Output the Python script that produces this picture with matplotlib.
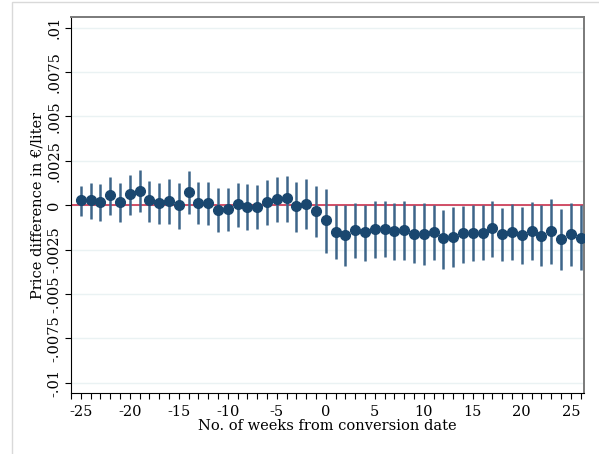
import numpy as np
import matplotlib
matplotlib.use("Agg")
import matplotlib.pyplot as plt
from matplotlib.patches import Rectangle

# Event-study estimates: weeks relative to conversion date
weeks = list(range(-25, 27))
coef = [0.00030, 0.00030, 0.00019, 0.00056, 0.00019, 0.00062, 0.00083, 0.00028,
        0.00013, 0.00023, 0.00004, 0.00075, 0.00015, 0.00013, -0.00024, -0.00021,
        0.00008, -0.00009, -0.00008, 0.00021, 0.00036, 0.00039, -0.00004, 0.00009,
        -0.00030, -0.00084, -0.00148, -0.00167, -0.00141, -0.00152, -0.00133, -0.00131,
        -0.00143, -0.00141, -0.00160, -0.00160, -0.00150, -0.00184, -0.00176, -0.00158,
        -0.00156, -0.00156, -0.00128, -0.00161, -0.00148, -0.00169, -0.00143, -0.00171,
        -0.00145, -0.00190, -0.00163, -0.00182]
ci_hi = [0.00109, 0.00126, 0.00118, 0.00158, 0.00126, 0.00173, 0.00201, 0.00139,
         0.00128, 0.00146, 0.00128, 0.00191, 0.00133, 0.00131, 0.00096, 0.00099,
         0.00128, 0.00118, 0.00116, 0.00145, 0.00160, 0.00167, 0.00133, 0.00148,
         0.00111, 0.00092, 0.00000, 0.00000, 0.00011, 0.00000, 0.00023, 0.00026,
         0.00013, 0.00024, 0.00000, 0.00011, 0.00000, -0.00026, -0.00011, -0.00002,
         0.00000, 0.00000, 0.00026, -0.00017, 0.00008, -0.00009, 0.00017, 0.00000,
         0.00034, -0.00021, 0.00013, 0.00000]
ci_lo = [-0.00058, -0.00077, -0.00088, -0.00054, -0.00092, -0.00053, -0.00039, -0.00092,
         -0.00107, -0.00107, -0.00131, -0.00049, -0.00107, -0.00113, -0.00152, -0.00145,
         -0.00122, -0.00139, -0.00133, -0.00111, -0.00096, -0.00092, -0.00150, -0.00131,
         -0.00178, -0.00267, -0.00300, -0.00343, -0.00297, -0.00312, -0.00297, -0.00293,
         -0.00306, -0.00310, -0.00325, -0.00334, -0.00306, -0.00357, -0.00347, -0.00323,
         -0.00313, -0.00308, -0.00289, -0.00315, -0.00308, -0.00332, -0.00310, -0.00340,
         -0.00328, -0.00364, -0.00342, -0.00364]

ytick_vals = [0.01, 0.0075, 0.005, 0.0025, 0, -0.0025, -0.005, -0.0075, -0.01]
ytick_labels = [".01", ".0075", ".005", ".0025", "0", "-.0025", "-.005", "-.0075", "-.01"]

plt.rcParams['font.family'] = ['DejaVu Serif']

fig = plt.figure(figsize=(5.99, 4.54), dpi=100)
fig.patches.append(Rectangle((12 / 599, -0.1), 1.2, 1.1 - 1.5 / 454, transform=fig.transFigure,
                             fill=False, edgecolor='#d9d9d9', linewidth=1.0))
ax = fig.add_axes([71 / 599, 61 / 454, 513 / 599, 376 / 454])

# light horizontal grid
for v in ytick_vals:
    ax.axhline(v, color='#eaf2f3', linewidth=1.0, zorder=0)

ax.axhline(0, color='#c8203f', linewidth=1.1, zorder=1)

ax.vlines(weeks, ci_lo, ci_hi, color='#3d6589', linewidth=1.8, zorder=2)
ax.plot(weeks, coef, 'o', color='#1a476f', markersize=7, zorder=3)

ax.set_xlim(-25.95, 26.35)
ax.set_ylim(-0.01057, 0.0106)

ax.set_yticks(ytick_vals)
ax.set_yticklabels(ytick_labels, rotation=90, va='center', fontsize=10.5)
xt = list(range(-26, 27))
ax.set_xticks(xt)
ax.set_xticklabels([str(t) if t % 5 == 0 else "" for t in xt], fontsize=10.5)
ax.tick_params(axis='x', length=4, width=0.8, color='black', pad=5)
ax.tick_params(axis='y', length=4, width=0.8, color='black', pad=3)

for s in ['left', 'bottom']:
    ax.spines[s].set_color('black')
    ax.spines[s].set_linewidth(0.8)
for s in ['top', 'right']:
    ax.spines[s].set_color('#7a7a7a')
    ax.spines[s].set_linewidth(1.4)

ax.set_xlabel("No. of weeks from conversion date", fontsize=10.5, labelpad=0)
ax.set_ylabel("Price difference in €/liter", fontsize=10.5, labelpad=2)

fig.savefig("out.png", dpi=100)
